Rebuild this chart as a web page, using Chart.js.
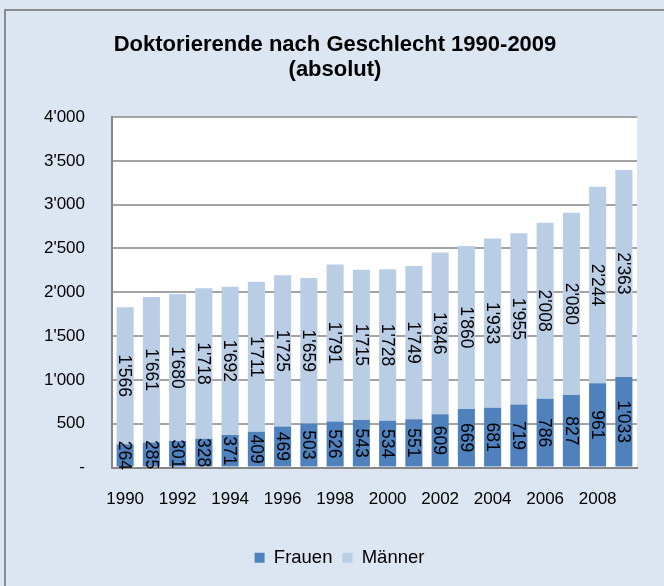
<!DOCTYPE html>
<html>
<head>
<meta charset="utf-8">
<script src="https://cdn.jsdelivr.net/npm/chart.js@4/dist/chart.umd.min.js"></script>
<style>
  html, body { margin: 0; padding: 0; background: #fff; }
  canvas { display: block; }
</style>
</head>
<body>
<canvas id="myChart" width="664" height="586"></canvas>
<script>
const years = ['1990', '1991', '1992', '1993', '1994', '1995', '1996', '1997', '1998', '1999',
    '2000', '2001', '2002', '2003', '2004', '2005', '2006', '2007', '2008', '2009'];
const frauen = [264, 285, 301, 328, 371, 409, 469, 503, 526, 543,
    534, 551, 609, 669, 681, 719, 786, 827, 961, 1033];
const maenner = [1566, 1661, 1680, 1718, 1692, 1711, 1725, 1659, 1791, 1715,
    1728, 1749, 1846, 1860, 1933, 1955, 2008, 2080, 2244, 2363];
const seriesNames = ['Frauen', 'Männer'];
const titleLines = ['Doktorierende nach Geschlecht 1990-2009', '(absolut)'];

const fontFamily = '"Liberation Sans", Arial, sans-serif';

// swiss style thousands separator
function fmt(v) {
    return String(Math.round(v)).replace(/\B(?=(\d{3})+(?!\d))/g, "'");
}

// background, outer frame, white plot area and the title
const frame = {
    id: 'frame',
    beforeDraw(chart) {
        const ctx = chart.ctx;
        const a = chart.chartArea;
        ctx.save();
        ctx.fillStyle = '#dce6f2';
        ctx.fillRect(0, 0, chart.width, chart.height);
        ctx.strokeStyle = '#8c8c8c';
        ctx.lineWidth = 2;
        ctx.beginPath();
        ctx.moveTo(5, chart.height + 5);
        ctx.lineTo(5, 10);
        ctx.lineTo(chart.width + 5, 10);
        ctx.stroke();
        ctx.fillStyle = '#ffffff';
        ctx.fillRect(a.left, a.top, a.right - a.left, a.bottom - a.top);
        ctx.fillStyle = '#000';
        ctx.font = 'bold 22px ' + fontFamily;
        ctx.textAlign = 'center';
        ctx.textBaseline = 'middle';
        titleLines.forEach((t, i) => ctx.fillText(t, 335, 45 + i * 25));
        ctx.restore();
    }
};

// values written inside the bars, turned 90 degrees
const barLabels = {
    id: 'barLabels',
    afterDatasetsDraw(chart) {
        const ctx = chart.ctx;
        ctx.save();
        ctx.fillStyle = '#000';
        ctx.font = '17.5px ' + fontFamily;
        ctx.textAlign = 'center';
        ctx.textBaseline = 'middle';
        chart.data.datasets.forEach((ds, di) => {
            chart.getDatasetMeta(di).data.forEach((bar, i) => {
                const cy = (bar.y + bar.base) / 2;
                ctx.save();
                ctx.translate(bar.x, cy);
                ctx.rotate(Math.PI / 2);
                ctx.fillText(fmt(ds.data[i]), 0, 1);
                ctx.restore();
            });
        });
        ctx.restore();
    }
};

const ctx = document.getElementById('myChart').getContext('2d');
const myChart = new Chart(ctx, {
    type: 'bar',
    data: {
        labels: years,
        datasets: [{
            label: seriesNames[0],
            data: frauen,
            backgroundColor: '#4f81bd',
            barPercentage: 0.65,
            categoryPercentage: 1
        }, {
            label: seriesNames[1],
            data: maenner,
            backgroundColor: '#b9cde5',
            barPercentage: 0.65,
            categoryPercentage: 1
        }]
    },
    options: {
        responsive: false,
        animation: false,
        devicePixelRatio: 1,
        layout: {
            padding: { top: 117, left: 42, right: 27, bottom: 9 }
        },
        scales: {
            x: {
                stacked: true,
                grid: { display: false, drawTicks: false },
                border: { color: '#868686', width: 2 },
                ticks: {
                    autoSkip: false,
                    maxRotation: 0,
                    padding: 22,
                    color: '#000',
                    font: { size: 17, family: fontFamily },
                    callback: function (v, i) { return i % 2 === 0 ? years[i] : ''; }
                },
                afterFit(scale) { scale.height = 71; }
            },
            y: {
                stacked: true,
                min: 0,
                max: 4000,
                grid: { color: '#a3a3a3', lineWidth: 2, drawTicks: false },
                border: { color: '#868686', width: 2 },
                ticks: {
                    stepSize: 500,
                    padding: 27,
                    color: '#000',
                    font: { size: 17, family: fontFamily },
                    callback: v => v === 0 ? '-' : fmt(v)
                },
                afterFit(scale) { scale.width = 70; }
            }
        },
        plugins: {
            title: { display: false },
            tooltip: { enabled: false },
            legend: {
                position: 'bottom',
                labels: {
                    boxWidth: 10,
                    boxHeight: 10,
                    padding: 10,
                    color: '#000',
                    font: { size: 18.5, family: fontFamily }
                }
            }
        }
    },
    plugins: [frame, barLabels]
});
</script>
</body>
</html>
